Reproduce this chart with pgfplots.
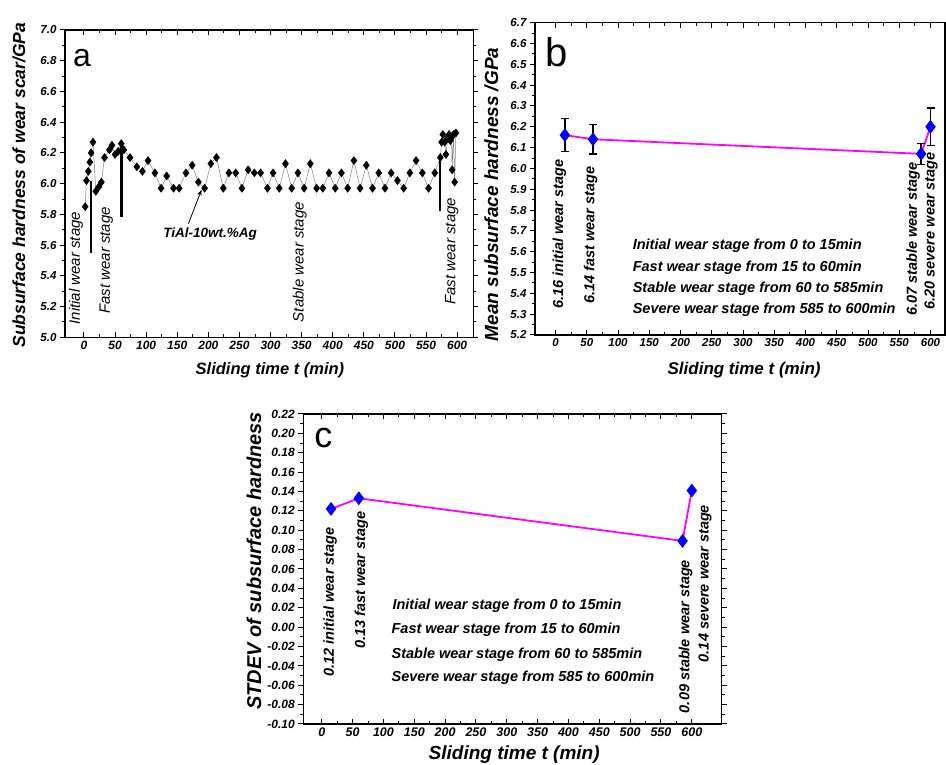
\documentclass[border=0pt]{standalone}
\usepackage{fontspec}
\setmainfont{Liberation Sans}
\usepackage{pgfplots}
\pgfplotsset{compat=1.18}
\usetikzlibrary{arrows.meta}
\definecolor{mag}{RGB}{255,0,255}
\definecolor{blu}{RGB}{0,0,255}
\newcommand\fs[1]{\fontsize{#1}{#1}\selectfont}

\tikzset{lbl/.style={font=\fs{#1}\bfseries\itshape}}
\pgfplotsset{
  panel/.style={
    scale only axis, anchor=south west, clip=false,
    axis line style={line width=1.3pt},
    every tick/.style={black, line width=1pt},
    major tick length=5pt, minor tick length=3pt,
    xtick align=inside, ytick align=outside,
    minor x tick num=1, minor y tick num=1,
    xtick={0,50,...,600},
    /pgf/number format/assume math mode=true,
  },
}

\begin{document}
\begin{tikzpicture}
\useasboundingbox (0,0) rectangle (946pt,765pt);

% ---- a: hardness vs time
\begin{axis}[panel, at={(65pt,427.7pt)}, width=408.3pt, height=307.3pt,
  xmin=-30.5, xmax=626, ymin=5, ymax=7,
  ytick={5.0,5.2,5.4,5.6,5.8,6.0,6.2,6.4,6.6,6.8,7.0},
  yticklabel style={lbl=11.5, /pgf/number format/.cd, fixed, fixed zerofill, precision=1},
  xticklabel style={lbl=12},
  xlabel={Sliding time t (min)},
  ylabel={Subsurface hardness of wear scar/GPa},
  xlabel style={lbl=16.5, at={(axis description cs:0.502,-0.107)}, anchor=center},
  ylabel style={lbl=17.5, at={(axis description cs:-0.113,0.495)}, anchor=center},
]
\addplot[gray, line width=0.5pt, mark=diamond*, mark size=4pt,
  mark options={black, fill=black}] coordinates {
  (2,5.85)(4,6.02)(7,6.08)(9.5,6.14)(11.5,6.20)(14.5,6.27)(19,5.95)(24,5.98)
  (28,6.01)(33,6.17)(41,6.22)(45,6.25)(50,6.19)(55,6.21)(60,6.26)(64,6.22)
  (74,6.17)(85,6.11)(94,6.08)(103,6.15)(114,6.07)(124,5.97)(133,6.05)(144,5.97)
  (153,5.97)(164,6.07)(174,6.12)(184,6.01)(194,5.97)(204,6.13)(213,6.17)(224,5.97)
  (233,6.07)(244,6.07)(254,5.97)(264,6.09)(274,6.07)(284,6.07)(295,5.97)(304,6.07)
  (314,5.97)(324,6.13)(334,5.97)(344,6.07)(354,5.97)(364,6.13)(374,5.97)(384,5.97)
  (394,6.07)(404,5.97)(414,6.07)(424,5.97)(434,6.15)(444,5.97)(454,6.12)(464,5.97)
  (474,6.07)(484,5.97)(494,6.07)(504,6.02)(514,5.97)(524,6.07)(534,6.15)(544,6.07)
  (554,5.97)(564,6.07)(573,6.17)(575,6.27)(577,6.32)(580,6.27)(582,6.19)(585,6.30)
  (587,6.32)(589,6.28)(591,6.30)(592,6.09)(594,6.32)(596,6.01)(598,6.33)
};
\addplot[black, line width=2.5pt] coordinates {(11,6.02)(11,5.55)};
\addplot[black, line width=2.5pt] coordinates {(60,6.28)(60,5.78)};
\addplot[black, line width=2.5pt] coordinates {(572.6,6.175)(572.6,5.82)};
\node[font=\fs{32}] at (axis cs:-3,6.82) {a};
\node[rotate=90, font=\fs{15}\itshape] at (axis cs:-13,5.45) {Initial wear stage};
\node[rotate=90, font=\fs{15}\itshape] at (axis cs:36,5.50) {Fast wear stage};
\node[rotate=90, font=\fs{15}\itshape] at (axis cs:347,5.49) {Stable wear stage};
\node[rotate=90, font=\fs{15}\itshape] at (axis cs:591.5,5.56) {Fast wear stage};
\draw[-{Stealth[length=6pt]}, line width=0.8pt] (axis cs:168,5.74) -- (axis cs:189,5.96);
\node[lbl=13.5] at (axis cs:203,5.67) {TiAl-10wt.\%Ag};
\end{axis}

% ---- b: mean hardness
\begin{axis}[panel, at={(535pt,430pt)}, width=410pt, height=312.3pt,
  xmin=-32.8, xmax=623.2, ymin=5.2, ymax=6.7,
  ytick={5.2,5.3,5.4,5.5,5.6,5.7,5.8,5.9,6.0,6.1,6.2,6.3,6.4,6.5,6.6,6.7},
  yticklabel style={lbl=11.5, /pgf/number format/.cd, fixed, fixed zerofill, precision=1},
  xticklabel style={lbl=11.5},
  xlabel={Sliding time t (min)},
  ylabel={Mean subsurface hardness /GPa},
  xlabel style={lbl=17, at={(axis description cs:0.51,-0.112)}, anchor=center},
  ylabel style={lbl=19, at={(axis description cs:-0.106,0.45)}, anchor=center},
]
\addplot[mag, line width=1.8pt, mark=diamond*, mark size=5.5pt,
  mark options={blu, fill=blu},
  error bars/.cd, y dir=both, y explicit,
  error bar style={black, line width=1.3pt},
  error mark options={black, rotate=90, mark size=4pt, line width=1.3pt}]
  coordinates {
  (15,6.16) +- (0,0.08)
  (60,6.14) +- (0,0.07)
  (585,6.07) +- (0,0.05)
  (600,6.20) +- (0,0.09)
};
\node[font=\fs{40}] at (axis cs:2.3,6.56) {b};
\node[rotate=90, lbl=14.5] at (axis cs:6,5.684) {6.16 initial wear stage};
\node[rotate=90, lbl=14.5] at (axis cs:56,5.68) {6.14 fast wear stage};
\node[rotate=90, lbl=14.5] at (axis cs:572,5.66) {6.07 stable wear stage};
\node[rotate=90, lbl=14.5] at (axis cs:601,5.70) {6.20 severe wear stage};
\node[anchor=west, lbl=14.5] at (axis cs:118,5.627) {Initial wear stage from 0 to 15min};
\node[anchor=west, lbl=14.5] at (axis cs:118,5.523) {Fast wear stage from 15 to 60min};
\node[anchor=west, lbl=14.5] at (axis cs:118,5.42) {Stable wear stage from 60 to 585min};
\node[anchor=west, lbl=14.5] at (axis cs:118,5.32) {Severe wear stage from 585 to 600min};
\end{axis}

% ---- c: standard deviation
\begin{axis}[panel, at={(303.3pt,41pt)}, width=418.4pt, height=310pt,
  xmin=-30, xmax=648.5, ymin=-0.10, ymax=0.22,
  ytick={-0.10,-0.08,-0.06,-0.04,-0.02,0,0.02,0.04,0.06,0.08,0.10,0.12,0.14,0.16,0.18,0.20,0.22},
  yticklabel style={lbl=12, /pgf/number format/.cd, fixed, fixed zerofill, precision=2},
  xticklabel style={lbl=12.5},
  xlabel={Sliding time t (min)},
  ylabel={STDEV of subsurface hardness},
  xlabel style={lbl=19, at={(axis description cs:0.504,-0.1)}, anchor=center},
  ylabel style={lbl=20, at={(axis description cs:-0.118,0.526)}, anchor=center},
]
\addplot[mag, line width=1.8pt, mark=diamond*, mark size=5.5pt,
  mark options={blu, fill=blu}] coordinates {
  (15,0.122)(60,0.133)(585,0.089)(600,0.141)
};
\node[font=\fs{36}] at (axis cs:2.6,0.195) {c};
\node[rotate=90, lbl=14.5] at (axis cs:13.5,0.026) {0.12 initial wear stage};
\node[rotate=90, lbl=14.5] at (axis cs:64,0.0484) {0.13 fast wear stage};
\node[rotate=90, lbl=14.5] at (axis cs:590,-0.0097) {0.09 stable wear stage};
\node[rotate=90, lbl=14.5] at (axis cs:621.5,0.045) {0.14 severe wear stage};
\node[anchor=west, lbl=14.5] at (axis cs:109,0.0217) {Initial wear stage from 0 to 15min};
\node[anchor=west, lbl=14.5] at (axis cs:107.5,-0.0023) {Fast wear stage from 15 to 60min};
\node[anchor=west, lbl=14.5] at (axis cs:107.5,-0.0281) {Stable wear stage from 60 to 585min};
\node[anchor=west, lbl=14.5] at (axis cs:107.5,-0.0522) {Severe wear stage from 585 to 600min};
\end{axis}
\end{tikzpicture}
\end{document}
